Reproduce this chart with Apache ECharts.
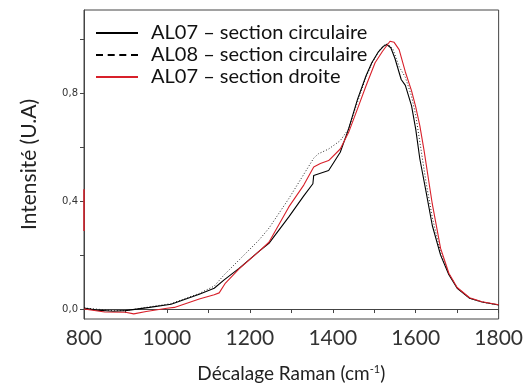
<!DOCTYPE html>
<html>
<head>
<meta charset="utf-8">
<script src="https://cdn.jsdelivr.net/npm/echarts@6/dist/echarts.min.js"></script>
<style>
  html, body { margin: 0; padding: 0; background: #fff; }
  #chart { width: 526px; height: 388px; }
</style>
</head>
<body>
<div id="chart"></div>
<script>
// AL07 - section circulaire (trait plein)
const al07CircX = [800, 830, 870, 900, 958, 1010, 1078, 1114, 1138, 1174, 1222, 1246, 1294, 1330, 1352, 1354, 1390, 1418, 1438, 1460, 1480, 1494, 1510, 1522, 1530, 1540, 1550, 1565, 1575, 1590, 1600, 1610, 1625, 1640, 1660, 1680, 1700, 1730, 1760, 1800]
const al07CircY = [0.004, -0.004, -0.008, -0.006, 0.006, 0.018, 0.055, 0.077, 0.108, 0.151, 0.214, 0.244, 0.342, 0.42, 0.465, 0.496, 0.514, 0.582, 0.668, 0.78, 0.865, 0.914, 0.955, 0.975, 0.982, 0.97, 0.93, 0.852, 0.83, 0.754, 0.668, 0.557, 0.435, 0.31, 0.2, 0.127, 0.077, 0.04, 0.026, 0.015]

// AL08 - section circulaire (pointillé)
const al08CircX = [800, 870, 900, 958, 1010, 1078, 1114, 1138, 1174, 1222, 1246, 1294, 1354, 1365, 1390, 1418, 1438, 1460, 1480, 1494, 1510, 1522, 1532, 1545, 1560, 1575, 1590, 1600, 1610, 1625, 1640, 1660, 1680, 1700, 1730, 1760, 1800]
const al08CircY = [0.004, -0.006, -0.006, 0.008, 0.02, 0.058, 0.085, 0.127, 0.182, 0.256, 0.3, 0.41, 0.56, 0.576, 0.594, 0.625, 0.668, 0.77, 0.86, 0.91, 0.955, 0.978, 0.985, 0.965, 0.9, 0.86, 0.79, 0.72, 0.62, 0.47, 0.34, 0.21, 0.13, 0.078, 0.04, 0.026, 0.015]

// AL07 - section droite (rouge)
const al07DroiteX = [800, 850, 900, 920, 950, 1000, 1018, 1022, 1078, 1114, 1126, 1140, 1174, 1222, 1246, 1294, 1330, 1354, 1370, 1390, 1418, 1438, 1460, 1480, 1502, 1520, 1538, 1548, 1560, 1575, 1590, 1600, 1610, 1620, 1640, 1660, 1680, 1700, 1730, 1760, 1800]
const al07DroiteY = [0.0, -0.011, -0.012, -0.018, -0.009, 0.003, 0.006, 0.012, 0.037, 0.053, 0.06, 0.094, 0.149, 0.214, 0.248, 0.379, 0.46, 0.527, 0.54, 0.551, 0.594, 0.655, 0.745, 0.828, 0.914, 0.957, 0.994, 0.99, 0.963, 0.88, 0.81, 0.75, 0.68, 0.59, 0.39, 0.225, 0.133, 0.08, 0.042, 0.027, 0.016]

// petit trait rouge sur l'axe gauche
const droiteEdgeX = [800, 800]
const droiteEdgeY = [0.445, 0.29]

const seriesNames = ['AL07 – section circulaire', 'AL08 – section circulaire', 'AL07 – section droite']
const xTicks = [800, 1000, 1200, 1400, 1600, 1800]
const yMinorTicks = [0, 0.2, 0.4, 0.6, 0.8, 1.0]
const yTickLabels = [0, 0.4, 0.8]

const zip = (xs, ys) => xs.map((x, i) => [x, ys[i]])

const chart = echarts.init(document.getElementById('chart'))
const bigFont = 'Lato, "Liberation Sans", sans-serif'
const RED = '#d8202a'

// icônes de légende : trait plein / tirets
const solidIcon = 'path://M0,0h42v2h-42z'
const dashIcon = 'path://M0,0h7v2h-7zM11.7,0h7v2h-7zM23.3,0h7v2h-7zM35,0h7v2h-7z'

const option = {
  animation: false,
  grid: {
    left: 84,
    right: 25,
    top: 10,
    bottom: 67,
    show: true,
    borderColor: '#444',
    borderWidth: 1,
  },
  legend: {
    orient: 'vertical',
    left: 91,
    top: 18,
    itemWidth: 42,
    itemHeight: 2,
    itemGap: 2,
    textStyle: {
      fontFamily: bigFont,
      fontSize: 20,
      color: '#111',
      lineHeight: 20,
      padding: [0, 0, 0, 8],
    },
    data: [
      { name: seriesNames[0], icon: solidIcon, itemStyle: { color: '#000' } },
      { name: seriesNames[1], icon: dashIcon, itemStyle: { color: '#000' } },
      { name: seriesNames[2], icon: solidIcon, itemStyle: { color: RED } },
    ],
  },
  xAxis: {
    type: 'value',
    min: 800,
    max: 1800,
    interval: 100,
    name: 'Décalage Raman (cm{sup|-1})',
    nameLocation: 'middle',
    nameGap: 45,
    nameTextStyle: {
      fontFamily: bigFont,
      fontSize: 19,
      color: '#222',
      rich: {
        sup: { fontFamily: bigFont, fontSize: 11, color: '#222', verticalAlign: 'top', padding: [0, 0, 8, 0] },
      },
    },
    axisLine: { show: true, lineStyle: { color: '#444' } },
    axisTick: { show: true, inside: false, length: 4, lineStyle: { color: '#444' } },
    splitLine: { show: false },
    axisLabel: {
      margin: 9,
      fontFamily: bigFont,
      fontSize: 21,
      color: '#333',
      formatter: (v) => (xTicks.indexOf(v) >= 0 ? String(v) : ''),
    },
  },
  yAxis: {
    type: 'value',
    min: -0.037,
    max: 1.11,
    name: 'Intensité (U.A)',
    nameLocation: 'middle',
    nameGap: 44,
    nameTextStyle: {
      fontFamily: bigFont,
      fontSize: 21,
      color: '#222',
    },
    axisLine: { show: true, lineStyle: { color: '#444' } },
    axisTick: { show: true, length: 4, customValues: yMinorTicks, lineStyle: { color: '#444' } },
    splitLine: { show: false },
    axisLabel: {
      margin: 6,
      fontSize: 10,
      fontFamily: '"DejaVu Sans", sans-serif',
      color: '#333',
      customValues: yTickLabels,
      formatter: (v) => v.toFixed(1).replace('.', ','),
    },
  },
  series: [
    {
      name: seriesNames[0],
      type: 'line',
      showSymbol: false,
      symbol: 'none',
      lineStyle: { color: '#000', width: 1.1 },
      itemStyle: { color: '#000' },
      data: zip(al07CircX, al07CircY),
      z: 3,
    },
    {
      name: seriesNames[1],
      type: 'line',
      showSymbol: false,
      symbol: 'none',
      lineStyle: { color: '#222', width: 1, type: [1, 2] },
      itemStyle: { color: '#000' },
      data: zip(al08CircX, al08CircY),
      z: 2,
    },
    {
      name: seriesNames[2],
      type: 'line',
      showSymbol: false,
      symbol: 'none',
      lineStyle: { color: RED, width: 1.1 },
      itemStyle: { color: RED },
      data: zip(al07DroiteX, al07DroiteY),
      z: 4,
    },
    {
      name: 'edge',
      type: 'line',
      showSymbol: false,
      symbol: 'none',
      silent: true,
      lineStyle: { color: RED, width: 1.5 },
      data: zip(droiteEdgeX, droiteEdgeY),
      z: 5,
    },
  ],
}

chart.setOption(option)
</script>
</body>
</html>
